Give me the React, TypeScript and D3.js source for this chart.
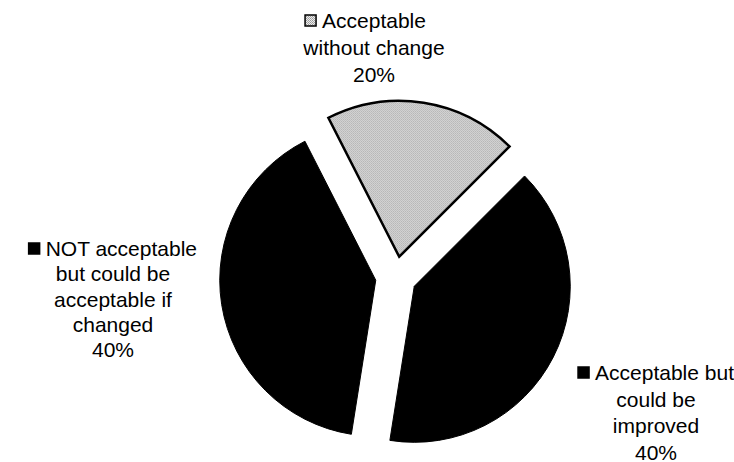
import React from "react";
import * as d3 from "d3";

// ---- data ----
const categories = [
  "Acceptable without change",
  "Acceptable but could be improved",
  "NOT acceptable but could be acceptable if changed",
];
const values = [20, 40, 40];
const labelLines = [
  ["Acceptable", "without change"],
  ["Acceptable but", "could be", "improved"],
  ["NOT acceptable", "but could be", "acceptable if", "changed"],
];
const sliceColors = ["url(#dither)", "#000000", "#000000"];

// ---- layout ----
const W = 734;
const H = 462;
const CX = 396;
const CY = 277;
const R = 156;
const EXPLODE = 20.5;
const START_DEG = -27;
const FONT = 21;
const KEY = 11;
const KEY_GAP = 6;
// keyMode: "group" centres key+first line together, "text" centres the first line text alone
const labelPos = [
  { cx: 374, y: 28, lineH: 27, keyMode: "text" },
  { cx: 656, y: 380, lineH: 26.5, keyMode: "group" },
  { cx: 113, y: 256, lineH: 25.3, keyMode: "group" },
];

function textWidth(s: string, size: number) {
  const w: Record<string, number> = {
    A: 0.667, N: 0.722, O: 0.778, T: 0.611, " ": 0.278, a: 0.556, b: 0.556, c: 0.5,
    d: 0.556, e: 0.556, f: 0.278, g: 0.556, h: 0.556, i: 0.222, l: 0.222, m: 0.833,
    n: 0.556, o: 0.556, p: 0.556, r: 0.333, t: 0.278, u: 0.556, v: 0.5, w: 0.722,
  };
  let t = 0;
  for (const ch of s) t += w[ch] ?? 0.556;
  return t * size;
}

export default function App() {
  const total = d3.sum(values);
  const start = (START_DEG * Math.PI) / 180;
  const pie = d3
    .pie<number>()
    .sort(null)
    .startAngle(start)
    .endAngle(start + 2 * Math.PI);
  const arcs = pie(values);
  const arcGen = d3.arc<d3.PieArcDatum<number>>().innerRadius(0).outerRadius(R);

  return (
    <svg
      width={W}
      height={H}
      style={{ position: "absolute", left: 0, top: 0, background: "#fff" }}
      fontFamily="'Liberation Sans', Arial, sans-serif"
    >
      <defs>
        <pattern id="dither" width="2" height="2" patternUnits="userSpaceOnUse">
          <rect width="2" height="2" fill="#ececec" />
          <rect width="1" height="1" fill="#9a9a9a" />
          <rect x="1" y="1" width="1" height="1" fill="#aaaaaa" />
        </pattern>
      </defs>
      <rect width={W} height={H} fill="#fff" />
      {arcs.map((a, i) => {
        const mid = (a.startAngle + a.endAngle) / 2;
        const dx = EXPLODE * Math.sin(mid);
        const dy = -EXPLODE * Math.cos(mid);
        return (
          <path
            key={categories[i]}
            d={arcGen(a) || ""}
            transform={`translate(${CX + dx},${CY + dy})`}
            fill={sliceColors[i]}
            stroke="#000"
            strokeWidth={i === 0 ? 2.5 : 1}
            strokeLinejoin="miter"
          />
        );
      })}
      {labelLines.map((lines, i) => {
        const pos = labelPos[i];
        const pct = `${Math.round((values[i] / total) * 100)}%`;
        const all = [...lines, pct];
        const firstW = textWidth(all[0], FONT);
        const textX =
          pos.keyMode === "text"
            ? pos.cx - firstW / 2
            : pos.cx - (KEY + KEY_GAP + firstW) / 2 + KEY + KEY_GAP;
        const keyX = textX - KEY_GAP - KEY;
        return (
          <g key={"lbl" + i} fontSize={FONT} fill="#000">
            <rect
              x={keyX}
              y={pos.y - 13}
              width={KEY}
              height={KEY}
              fill={i === 0 ? "url(#dither)" : "#000"}
              stroke="#000"
              strokeWidth={1.5}
            />
            <text x={textX} y={pos.y}>
              {all[0]}
            </text>
            {all.slice(1).map((ln, j) => (
              <text key={j} x={pos.cx} y={pos.y + (j + 1) * pos.lineH} textAnchor="middle">
                {ln}
              </text>
            ))}
          </g>
        );
      })}
    </svg>
  );
}
